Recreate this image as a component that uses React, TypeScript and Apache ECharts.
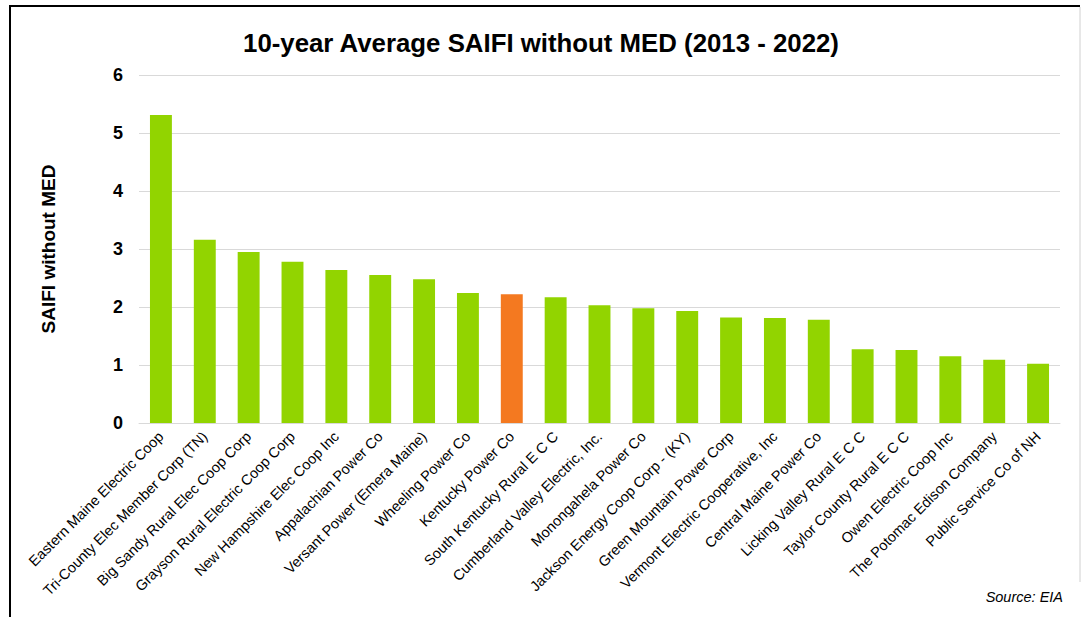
import React, { useEffect, useRef } from "react";
import * as echarts from "echarts";

const categories: string[] = [
  "Eastern Maine Electric Coop",
  "Tri-County Elec Member Corp (TN)",
  "Big Sandy Rural Elec Coop Corp",
  "Grayson Rural Electric Coop Corp",
  "New Hampshire Elec Coop Inc",
  "Appalachian Power Co",
  "Versant Power (Emera Maine)",
  "Wheeling Power Co",
  "Kentucky Power Co",
  "South Kentucky Rural E C C",
  "Cumberland Valley Electric, Inc.",
  "Monongahela Power Co",
  "Jackson Energy Coop Corp - (KY)",
  "Green Mountain Power Corp",
  "Vermont Electric Cooperative, Inc",
  "Central Maine Power Co",
  "Licking Valley Rural E C C",
  "Taylor County Rural E C C",
  "Owen Electric Coop Inc",
  "The Potomac Edison Company",
  "Public Service Co of NH",
];

const saifi: number[] = [
  5.31, 3.16, 2.95, 2.78, 2.64, 2.55, 2.48, 2.24, 2.22, 2.17, 2.03, 1.98,
  1.93, 1.82, 1.81, 1.78, 1.27, 1.26, 1.15, 1.09, 1.02,
];

const highlighted = "Kentucky Power Co";
const yTicks = { min: 0, max: 6, interval: 1 };

const GREEN = "#92D400";
const ORANGE = "#F47920";

export default function App() {
  const ref = useRef<HTMLDivElement>(null);

  useEffect(() => {
    if (!ref.current) return;
    const chart = echarts.init(ref.current, null, { renderer: "svg" });
    const font = "Liberation Sans, Arial, sans-serif";
    chart.setOption({
      animation: false,
      backgroundColor: "#ffffff",
      textStyle: { fontFamily: font },
      title: {
        text: "10-year Average SAIFI without MED (2013 - 2022)",
        left: "center",
        top: 25,
        textStyle: { fontSize: 25.8, fontWeight: "bold", color: "#000", fontFamily: font },
      },
      grid: { left: 139, right: 22, top: 75, bottom: 194, containLabel: false },
      xAxis: {
        type: "category",
        data: categories,
        axisLine: { show: true, lineStyle: { color: "#d9d9d9", width: 1 } },
        axisTick: { show: false },
        axisLabel: {
          rotate: 45,
          interval: 0,
          fontSize: 14.5,
          color: "#000",
          margin: 11,
          fontFamily: font,
        },
      },
      yAxis: {
        type: "value",
        min: yTicks.min,
        max: yTicks.max,
        interval: yTicks.interval,
        name: "SAIFI without MED",
        nameLocation: "middle",
        nameGap: 81,
        nameRotate: 90,
        nameTextStyle: { fontSize: 19, fontWeight: "bold", color: "#000", fontFamily: font },
        axisLine: { show: false },
        axisTick: { show: false },
        axisLabel: { fontSize: 18, fontWeight: "bold", color: "#000", margin: 16, fontFamily: font },
        splitLine: { lineStyle: { color: "#d9d9d9", width: 1 } },
      },
      series: [
        {
          type: "bar",
          barWidth: "50%",
          data: saifi.map((v, i) => ({
            value: v,
            itemStyle: { color: categories[i] === highlighted ? ORANGE : GREEN },
          })),
        },
      ],
      graphic: [
        {
          type: "line",
          shape: { x1: 10, y1: 6, x2: 10, y2: 617 },
          style: { stroke: "#000", lineWidth: 2 },
        },
        {
          type: "line",
          shape: { x1: 9, y1: 6, x2: 1080, y2: 6 },
          style: { stroke: "#000", lineWidth: 2 },
        },
        {
          type: "line",
          shape: { x1: 1080, y1: 7, x2: 1080, y2: 582 },
          style: { stroke: "#d0d0d0", lineWidth: 1 },
        },
        {
          type: "text",
          right: 19,
          top: 589,
          style: {
            text: "Source: EIA",
            fontSize: 14.5,
            fontStyle: "italic",
            fill: "#000",
            fontFamily: font,
          },
        },
      ],
    });
    return () => chart.dispose();
  }, []);

  return (
    <div
      ref={ref}
      style={{ position: "absolute", left: 0, top: 0, width: 1082, height: 617 }}
    />
  );
}
